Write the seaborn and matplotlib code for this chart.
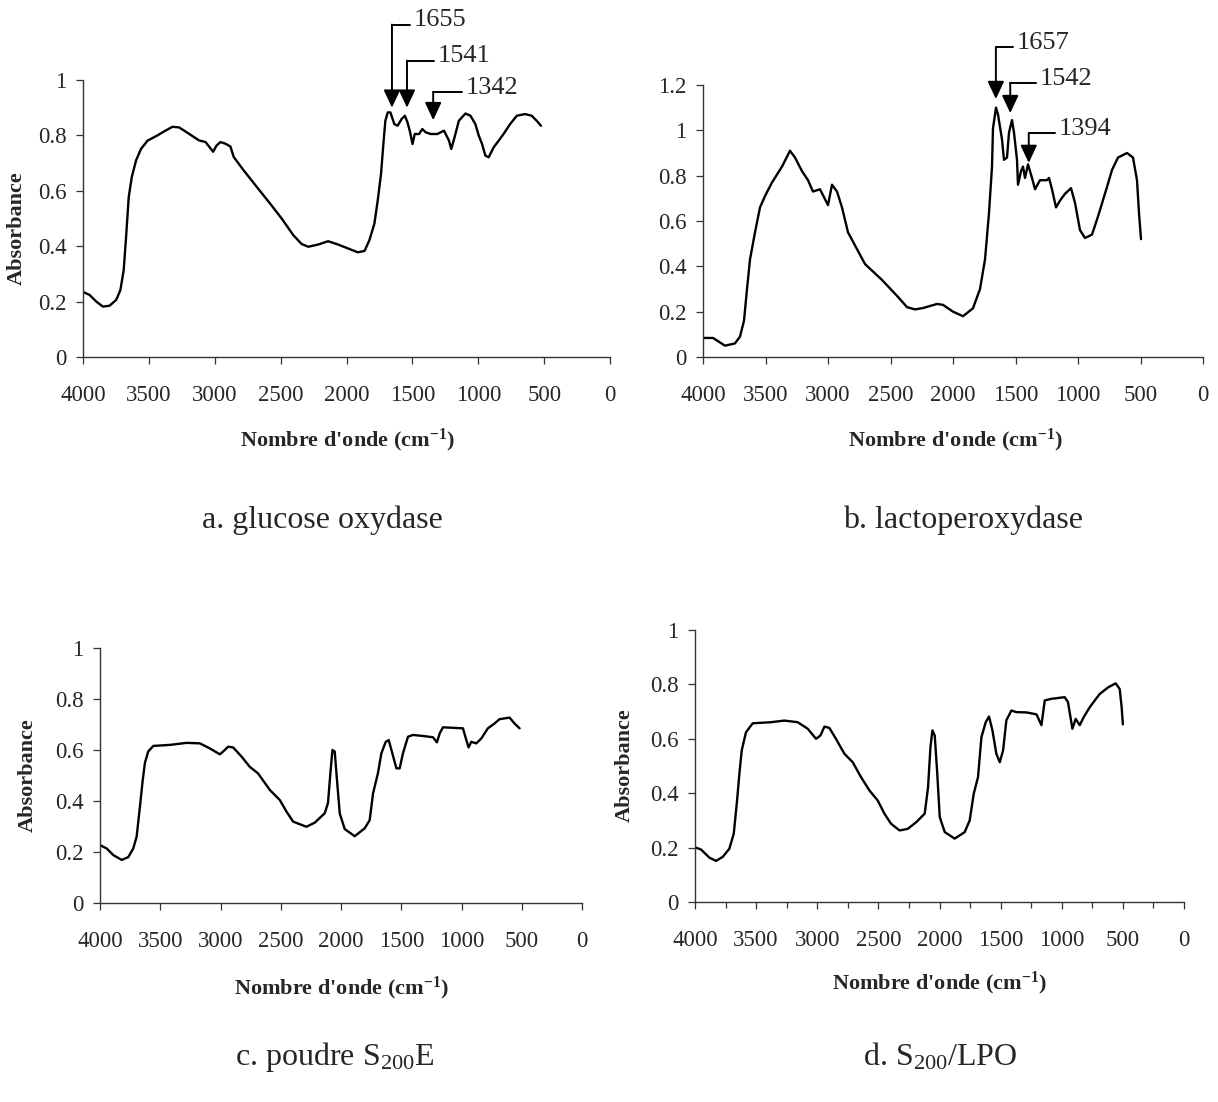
import numpy as np
import pandas as pd
import matplotlib
matplotlib.use("Agg")
import matplotlib.pyplot as plt
from matplotlib.ticker import FixedLocator, FuncFormatter
import seaborn as sns

# Spectres IR (nombre d'onde en cm-1, absorbance)
wn_a = [4000, 3950, 3899, 3849, 3799, 3748, 3716, 3691, 3673, 3653, 3630, 3597, 3560,
        3510, 3435, 3371, 3321, 3271, 3196, 3120, 3070, 3012, 2987, 2957, 2919, 2881,
        2856, 2781, 2681, 2580, 2492, 2404, 2341, 2291, 2215, 2140, 2064, 1989, 1914,
        1863, 1826, 1788, 1763, 1738, 1718, 1705, 1687, 1667, 1637, 1612, 1582, 1557,
        1537, 1517, 1499, 1482, 1449, 1424, 1399, 1361, 1311, 1260, 1222, 1205, 1180,
        1147, 1097, 1059, 1022, 996, 971, 946, 921, 883, 845, 808, 758, 707, 645, 594,
        557, 524]
abs_a = [0.235, 0.224, 0.200, 0.182, 0.185, 0.206, 0.242, 0.314, 0.433, 0.577, 0.649,
         0.710, 0.751, 0.781, 0.800, 0.818, 0.831, 0.829, 0.806, 0.782, 0.776, 0.741,
         0.763, 0.776, 0.770, 0.760, 0.722, 0.674, 0.614, 0.554, 0.500, 0.440, 0.408,
         0.398, 0.406, 0.418, 0.406, 0.392, 0.378, 0.383, 0.422, 0.482, 0.565, 0.661,
         0.781, 0.853, 0.883, 0.883, 0.841, 0.835, 0.859, 0.871, 0.847, 0.811, 0.769,
         0.805, 0.805, 0.823, 0.811, 0.805, 0.805, 0.817, 0.781, 0.751, 0.793, 0.853,
         0.879, 0.871, 0.841, 0.799, 0.769, 0.727, 0.721, 0.757, 0.781, 0.805, 0.841,
         0.871, 0.877, 0.871, 0.853, 0.835]

wn_b = [4000, 3920, 3824, 3744, 3704, 3672, 3648, 3624, 3584, 3544, 3504, 3448, 3368,
        3304, 3264, 3208, 3160, 3120, 3064, 3000, 2968, 2928, 2888, 2840, 2704, 2568,
        2440, 2368, 2304, 2240, 2128, 2080, 2000, 1920, 1840, 1784, 1744, 1712, 1688,
        1680, 1656, 1640, 1608, 1592, 1568, 1552, 1528, 1512, 1488, 1480, 1456, 1440,
        1424, 1400, 1368, 1344, 1304, 1248, 1232, 1208, 1176, 1144, 1104, 1056, 1024,
        984, 944, 888, 840, 768, 728, 680, 608, 560, 528, 512, 496]
abs_b = [0.084, 0.084, 0.050, 0.060, 0.090, 0.160, 0.300, 0.430, 0.550, 0.660, 0.710,
         0.770, 0.840, 0.910, 0.880, 0.820, 0.780, 0.730, 0.740, 0.670, 0.760, 0.730,
         0.660, 0.550, 0.410, 0.340, 0.265, 0.220, 0.210, 0.216, 0.234, 0.230, 0.200,
         0.180, 0.215, 0.300, 0.430, 0.635, 0.840, 1.010, 1.100, 1.070, 0.960, 0.870,
         0.880, 0.990, 1.045, 0.990, 0.870, 0.760, 0.820, 0.840, 0.790, 0.850, 0.790,
         0.740, 0.780, 0.780, 0.790, 0.740, 0.660, 0.690, 0.720, 0.745, 0.680, 0.560,
         0.525, 0.540, 0.620, 0.750, 0.825, 0.880, 0.900, 0.880, 0.780, 0.635, 0.520]

wn_c = [4000, 3945, 3890, 3820, 3765, 3724, 3696, 3668, 3646, 3627, 3600, 3558, 3420,
        3281, 3171, 3088, 3005, 2978, 2936, 2895, 2825, 2757, 2688, 2590, 2508, 2452,
        2397, 2287, 2218, 2135, 2108, 2088, 2071, 2052, 2033, 2010, 1969, 1886, 1803,
        1762, 1734, 1693, 1665, 1629, 1604, 1574, 1540, 1513, 1486, 1444, 1403, 1320,
        1237, 1204, 1181, 1154, 1071, 988, 960, 941, 919, 877, 836, 781, 726, 684, 601,
        560, 518]
abs_c = [0.227, 0.214, 0.188, 0.169, 0.180, 0.214, 0.260, 0.380, 0.480, 0.550, 0.594,
         0.616, 0.620, 0.628, 0.626, 0.606, 0.583, 0.594, 0.613, 0.610, 0.574, 0.534,
         0.508, 0.443, 0.404, 0.358, 0.319, 0.299, 0.315, 0.352, 0.392, 0.510, 0.600,
         0.594, 0.480, 0.350, 0.290, 0.262, 0.293, 0.325, 0.430, 0.510, 0.587, 0.632,
         0.639, 0.587, 0.528, 0.528, 0.587, 0.652, 0.659, 0.655, 0.650, 0.630, 0.665,
         0.689, 0.687, 0.685, 0.639, 0.610, 0.632, 0.626, 0.645, 0.685, 0.704, 0.721,
         0.727, 0.704, 0.685]

wn_d = [4000, 3951, 3882, 3828, 3773, 3719, 3683, 3656, 3637, 3618, 3583, 3528, 3378,
        3269, 3160, 3078, 3010, 2974, 2941, 2901, 2847, 2778, 2710, 2642, 2573, 2505,
        2451, 2397, 2327, 2259, 2189, 2121, 2094, 2074, 2058, 2039, 2020, 1998, 1957,
        1876, 1794, 1753, 1720, 1685, 1657, 1622, 1595, 1567, 1535, 1507, 1480, 1453,
        1412, 1371, 1289, 1207, 1166, 1139, 1085, 976, 949, 913, 886, 853, 820, 771,
        730, 689, 621, 559, 526, 510, 500]
abs_d = [0.201, 0.193, 0.163, 0.151, 0.166, 0.196, 0.251, 0.373, 0.471, 0.557, 0.624,
         0.657, 0.661, 0.667, 0.661, 0.637, 0.600, 0.612, 0.645, 0.640, 0.600, 0.545,
         0.514, 0.459, 0.410, 0.373, 0.325, 0.288, 0.263, 0.269, 0.294, 0.325, 0.420,
         0.569, 0.631, 0.612, 0.484, 0.312, 0.257, 0.233, 0.257, 0.300, 0.398, 0.459,
         0.606, 0.661, 0.682, 0.631, 0.545, 0.514, 0.557, 0.668, 0.704, 0.698, 0.697,
         0.690, 0.650, 0.741, 0.747, 0.753, 0.735, 0.637, 0.673, 0.650, 0.680, 0.716,
         0.741, 0.765, 0.789, 0.804, 0.783, 0.716, 0.653]

# pics annotés
peaks_a = [1655, 1541, 1342]
peaks_b = [1657, 1542, 1394]

captions = ["a. glucose oxydase", "b. lactoperoxydase",
            "c. poudre S$_{200}$E", "d. S$_{200}$/LPO"]

sns.set_theme(style="ticks")
plt.rcParams['font.family'] = ['Liberation Serif', 'DejaVu Serif']
plt.rcParams['mathtext.fontset'] = 'custom'
plt.rcParams['mathtext.rm'] = 'Liberation Serif'
plt.rcParams['mathtext.it'] = 'Liberation Serif:italic'
plt.rcParams['mathtext.bf'] = 'Liberation Serif:bold'

W, H = 1218, 1102
fig = plt.figure(figsize=(W / 100, H / 100), dpi=100)


def px_axes(left, bottom, right, top):
    # rectangle en pixels -> fraction de figure
    return [left / W, 1 - bottom / H, (right - left) / W, (bottom - top) / H]


def draw_panel(rect, wn, ab, ymax, ystep, minor, ylab, xlab_pos, ylab_pos):
    ax = fig.add_axes(rect)
    df = pd.DataFrame({'wn': wn, 'abs': ab})
    sns.lineplot(data=df, x='wn', y='abs', sort=False, color='black', lw=1.7,
                 ax=ax, legend=False)
    ax.set_xlim(4000, 0)
    ax.set_ylim(0, ymax)
    ax.xaxis.set_major_locator(FixedLocator(np.arange(0, 4001, 500)))
    ax.yaxis.set_major_locator(FixedLocator(np.arange(0, ymax + 1e-6, ystep)))
    ax.yaxis.set_major_formatter(FuncFormatter(lambda v, p: f"{v:g}"))
    if minor:
        ax.xaxis.set_minor_locator(FixedLocator(np.arange(250, 4000, 500)))
        ax.tick_params(axis='x', which='minor', length=4, width=0.9, color='#333333')
    ax.tick_params(axis='both', which='major', direction='out', length=5, width=0.9,
                   labelsize=16.5, color='#333333', pad=7)
    ax.tick_params(axis='x', which='major', pad=15)
    for s in ['top', 'right']:
        ax.spines[s].set_visible(False)
    for s in ['left', 'bottom']:
        ax.spines[s].set_linewidth(1.0)
        ax.spines[s].set_color('#333333')
    ax.set_xlabel("Nombre d'onde (cm$^{\\mathbf{-1}}$)", fontsize=16, fontweight='bold',
                  va='center')
    ax.xaxis.set_label_coords(*xlab_pos)
    if ylab:
        ax.set_ylabel("Absorbance", fontsize=16, fontweight='bold', va='center')
        ax.yaxis.set_label_coords(*ylab_pos)
    else:
        ax.set_ylabel("")
    ax.grid(False)
    return ax


def annotate_peaks(ax, peaks, tips, tops, arms):
    for wn, tip, top, arm in zip(peaks, tips, tops, arms):
        ax.annotate('', xy=(wn, tip), xytext=(wn, top), annotation_clip=False,
                    arrowprops=dict(arrowstyle='-|>,head_length=0.9,head_width=0.42',
                                    color='black', lw=1.4, shrinkA=0, shrinkB=0,
                                    mutation_scale=12))
        ax.plot([wn, wn - arm], [top, top], color='black', lw=1.4, clip_on=False)
        ax.text(wn - arm - 30, top + 0.015 * ax.get_ylim()[1], str(wn), fontsize=19,
                ha='left', va='center')


ax_a = draw_panel(px_axes(83, 357, 610, 80), wn_a, abs_a, 1.0, 0.2, False, True,
                  (0.501, -0.30), (-0.125, 0.466))
annotate_peaks(ax_a, peaks_a, [0.90, 0.90, 0.855], [1.20, 1.07, 0.957], [137, 205, 215])

ax_b = draw_panel(px_axes(703, 357, 1203, 85), wn_b, abs_b, 1.2, 0.2, False, False,
                  (0.504, -0.305), None)
annotate_peaks(ax_b, peaks_b, [1.138, 1.076, 0.856], [1.367, 1.209, 0.988], [136, 208, 208])

ax_c = draw_panel(px_axes(100, 903, 582, 648), wn_c, abs_c, 1.0, 0.2, False, True,
                  (0.502, -0.333), (-0.149, 0.502))

ax_d = draw_panel(px_axes(695, 902, 1184, 630), wn_d, abs_d, 1.0, 0.2, True, True,
                  (0.50, -0.298), (-0.143, 0.504))

cap_pos = [(322, 520), (963, 520), (335, 1057), (940, 1057)]
for txt, (cx, cy) in zip(captions, cap_pos):
    fig.text(cx / W, 1 - cy / H, txt, fontsize=23, ha='center', va='center')

fig.savefig("out.png", dpi=100, facecolor='white')
